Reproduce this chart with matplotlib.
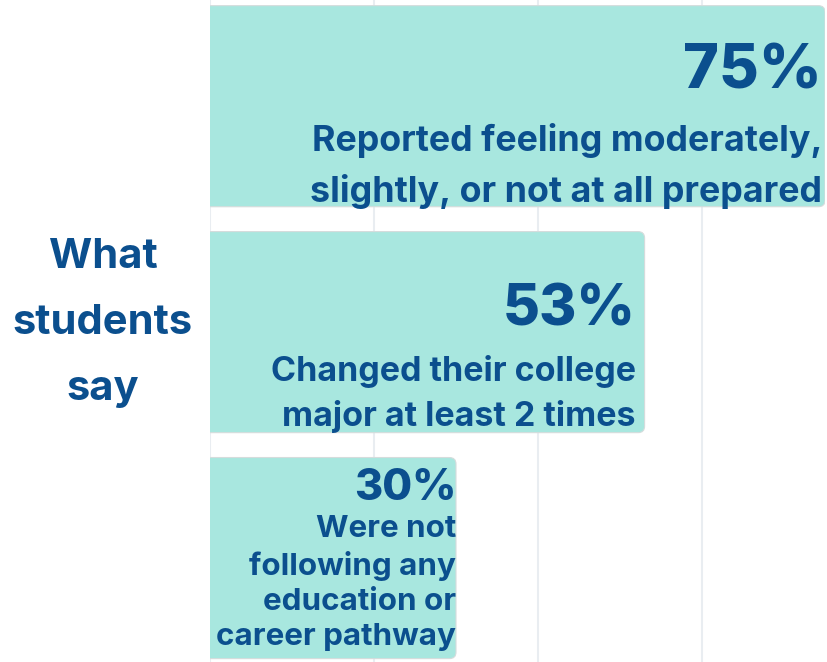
import matplotlib
matplotlib.use("Agg")
import matplotlib.pyplot as plt
from matplotlib.patches import FancyBboxPatch

# survey results
values = [75, 53, 30]
big_labels = ["75%", "53%", "30%"]
descriptions = [
    "Reported feeling moderately,\nslightly, or not at all prepared",
    "Changed their college\nmajor at least 2 times",
    "Were not\nfollowing any\neducation or\ncareer pathway",
]
side_title = "What\nstudents\nsay"

bar_color = "#A8E7DF"
text_color = "#0B4F8E"
grid_color = "#E9EDF1"

plt.rcParams["font.family"] = ["Inter", "DejaVu Sans"]

fig = plt.figure(figsize=(8.27, 6.62), dpi=100)
ax = fig.add_axes([210 / 827, 0, 615 / 827, 1])

pos = list(range(len(values)))
bars = ax.barh(pos, values, height=0.89, color=bar_color)

# swap the square bars for ones with rounded right corners
for b in bars:
    x0, y0 = b.get_x(), b.get_y()
    w, h = b.get_width(), b.get_height()
    b.set_visible(False)
    ax.add_patch(FancyBboxPatch((x0 - 2, y0), w + 2, h,
                                boxstyle="round,pad=0,rounding_size=0.8",
                                mutation_aspect=0.036,
                                facecolor=bar_color, edgecolor="#D5DCDC",
                                linewidth=0.8, zorder=2))

ax.set_xlim(0, 75)
ax.set_ylim(2.46, -0.47)
ax.set_xticks([0, 20, 40, 60])
ax.grid(axis="x", color=grid_color, linewidth=1.5, zorder=0)
ax.set_axisbelow(True)
ax.tick_params(left=False, bottom=False, labelleft=False, labelbottom=False)
for s in ax.spines.values():
    s.set_visible(False)

big_sizes = [44, 41, 31]
big_offsets = [18, 7, 58]
right_pad = [-3, -9, 0]
desc_sizes = [25.8, 24.5, 22.6]
desc_offsets = [-60, -62, -25]
desc_spacing = [1.58, 1.46, 1.33]
for i, v in enumerate(values):
    ax.annotate(big_labels[i], xy=(v, i), xytext=(right_pad[i], big_offsets[i]),
                textcoords="offset pixels", ha="right", va="baseline",
                fontsize=big_sizes[i], fontweight="heavy", color=text_color, zorder=3)
    ax.annotate(descriptions[i], xy=(v, i), xytext=(right_pad[i], desc_offsets[i]),
                textcoords="offset pixels", ha="right", va="center",
                multialignment="right", linespacing=desc_spacing[i],
                fontsize=desc_sizes[i], fontweight="bold", color=text_color, zorder=3)

fig.text(103 / 827, 1 - 323 / 662, side_title, ha="center", va="center",
         fontsize=30, fontweight="bold", color=text_color, linespacing=1.95)

fig.savefig("out.png", dpi=100, facecolor="white")
